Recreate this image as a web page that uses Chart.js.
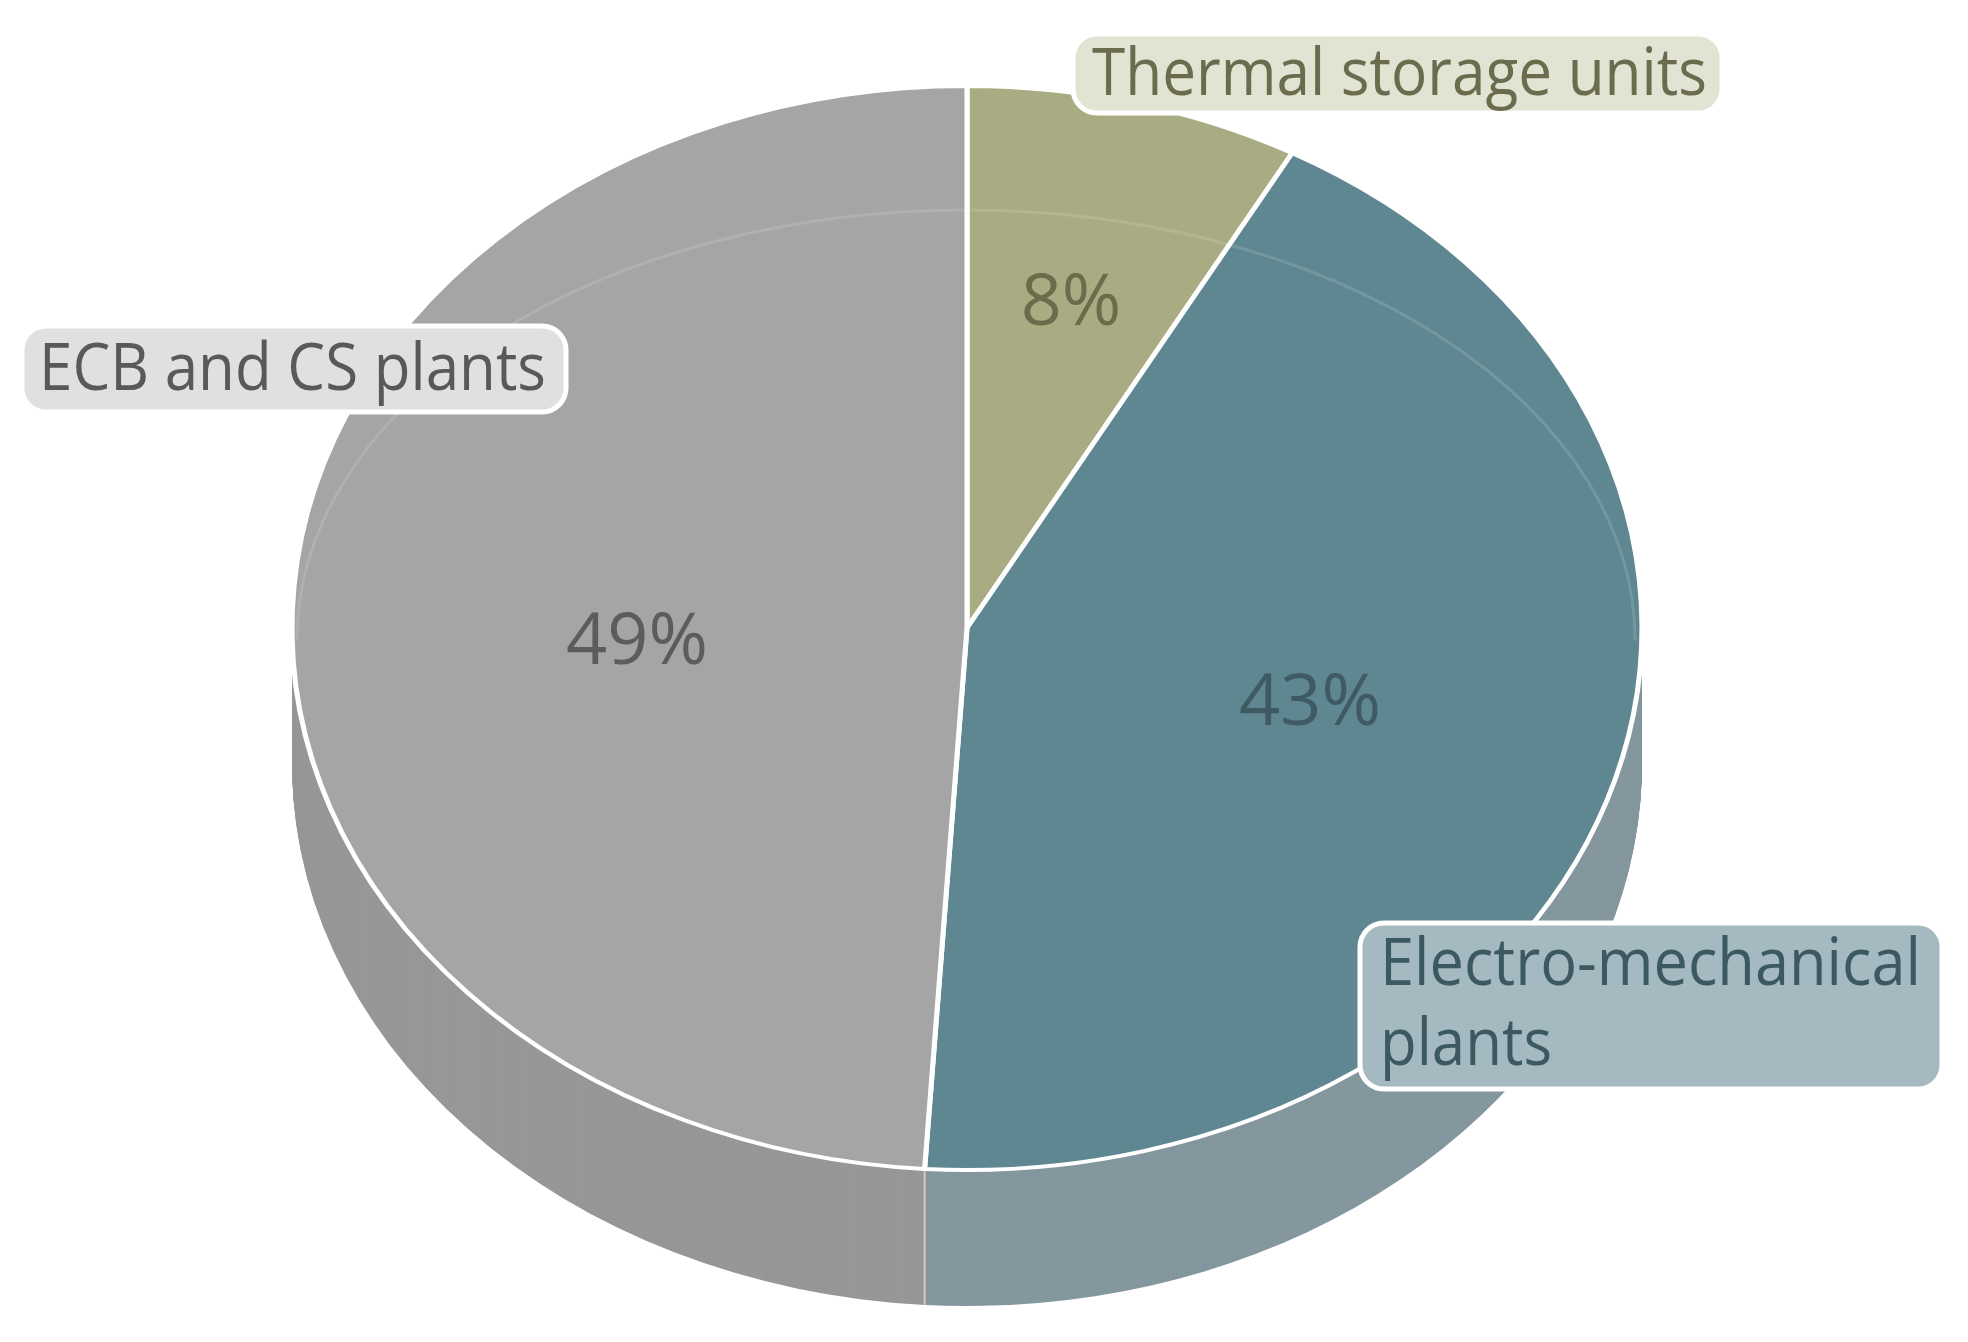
<!DOCTYPE html>
<html lang="en">
<head>
    <meta charset="UTF-8">
    <title>Plant share</title>
    <script src="https://cdn.jsdelivr.net/npm/chart.js"></script>
    <style>
        body {
            margin: 0;
            background-color: #ffffff;
        }
        .chart-container {
            position: relative;
            width: 1968px;
            height: 1342px;
        }
    </style>
</head>
<body>

<div class="chart-container">
    <canvas id="shareChart"></canvas>
</div>

<script>
    const categories = ['Thermal storage units', 'Electro-mechanical plants', 'ECB and CS plants'];
    const shares = [8, 43, 49];

    const topColors = ['#a9ac82', '#5f8792', '#a5a5a5'];
    const sideColors = ['#b3a98f', '#84979e', '#979797'];

    // tilted disc, in page pixels
    const disc = { x: 967, y: 628, rx: 675, ry: 542, depth: 136 };

    const percentLabels = [
        { x: 1071, y: 299, width: 102, color: '#6a6c4c' },
        { x: 1310, y: 699, width: 144, color: '#3f5a63' },
        { x: 637, y: 638, width: 144, color: '#5c5c5c' }
    ];

    const boxes = [
        { x: 1073, y: 34, w: 649, h: 79, fill: '#e1e3d3', color: '#6b6c4e', lines: ['Thermal storage units'], widths: [615], textX: 1092, textY: 95 },
        { x: 1360, y: 923, w: 582, h: 166, fill: '#a5b9c0', color: '#3c5860', lines: ['Electro-mechanical', 'plants'], widths: [541, 172], textX: 1380, textY: 985 },
        { x: 22, y: 326, w: 544, h: 86, fill: '#e0e0e0', color: '#595959', lines: ['ECB and CS plants'], widths: [507], textX: 39, textY: 390 }
    ];

    function squash(ctx, arc) {
        ctx.translate(disc.x, disc.y);
        ctx.scale(disc.rx / arc.outerRadius, disc.ry / arc.outerRadius);
        ctx.translate(-arc.x, -arc.y);
    }

    const tiltedDisc = {
        id: 'tiltedDisc',
        beforeDatasetsDraw(chart) {
            const ctx = chart.ctx;
            const arcs = chart.getDatasetMeta(0).data;

            // side wall: the same arcs stacked downward
            for (let d = disc.depth; d > 0; d--) {
                ctx.save();
                ctx.translate(0, d);
                squash(ctx, arcs[0]);
                arcs.forEach((arc, i) => {
                    const saved = arc.options;
                    arc.options = { ...saved, backgroundColor: sideColors[i], borderWidth: 0 };
                    arc.draw(ctx);
                    arc.options = saved;
                });
                ctx.restore();
            }

            // pale seam on the wall below the ECB / electro edge
            const end = arcs[1].endAngle;
            const seamX = disc.x + disc.rx * Math.cos(end);
            const seamY = disc.y + disc.ry * Math.sin(end);
            ctx.save();
            ctx.strokeStyle = '#d9c8b4';
            ctx.lineWidth = 2;
            ctx.beginPath();
            ctx.moveTo(seamX, seamY);
            ctx.lineTo(seamX, seamY + disc.depth);
            ctx.stroke();
            ctx.restore();

            ctx.save();
            squash(ctx, arcs[0]);
        },
        afterDatasetsDraw(chart) {
            const ctx = chart.ctx;
            ctx.restore();

            // faint rim highlight on the far half
            ctx.save();
            ctx.strokeStyle = 'rgba(255,255,255,0.13)';
            ctx.lineWidth = 3;
            ctx.beginPath();
            ctx.ellipse(966, 640, 669, 430, 0, Math.PI, 2 * Math.PI);
            ctx.stroke();
            ctx.restore();

            ctx.save();
            ctx.textBaseline = 'alphabetic';

            ctx.font = '400 72px "Open Sans"';
            ctx.textAlign = 'center';
            shares.forEach((v, i) => {
                const p = percentLabels[i];
                ctx.fillStyle = p.color;
                ctx.fillText(v + '%', p.x, p.y + 26, p.width);
            });

            ctx.textAlign = 'left';
            ctx.font = '400 66px "Open Sans"';
            boxes.forEach(b => {
                ctx.beginPath();
                ctx.roundRect(b.x, b.y, b.w, b.h, 24);
                ctx.fillStyle = b.fill;
                ctx.fill();
                ctx.strokeStyle = '#ffffff';
                ctx.lineWidth = 5;
                ctx.stroke();
                ctx.fillStyle = b.color;
                b.lines.forEach((line, j) => {
                    ctx.fillText(line, b.textX, b.textY + j * 80, b.widths[j]);
                });
            });
            ctx.restore();
        }
    };

    new Chart(document.getElementById('shareChart'), {
        type: 'pie',
        data: {
            labels: categories,
            datasets: [{
                data: shares,
                backgroundColor: topColors,
                borderColor: '#ffffff',
                borderWidth: 5,
                clip: false
            }]
        },
        options: {
            responsive: true,
            maintainAspectRatio: false,
            animation: false,
            plugins: {
                legend: { display: false },
                tooltip: { enabled: false }
            }
        },
        plugins: [tiltedDisc]
    });
</script>

</body>
</html>
